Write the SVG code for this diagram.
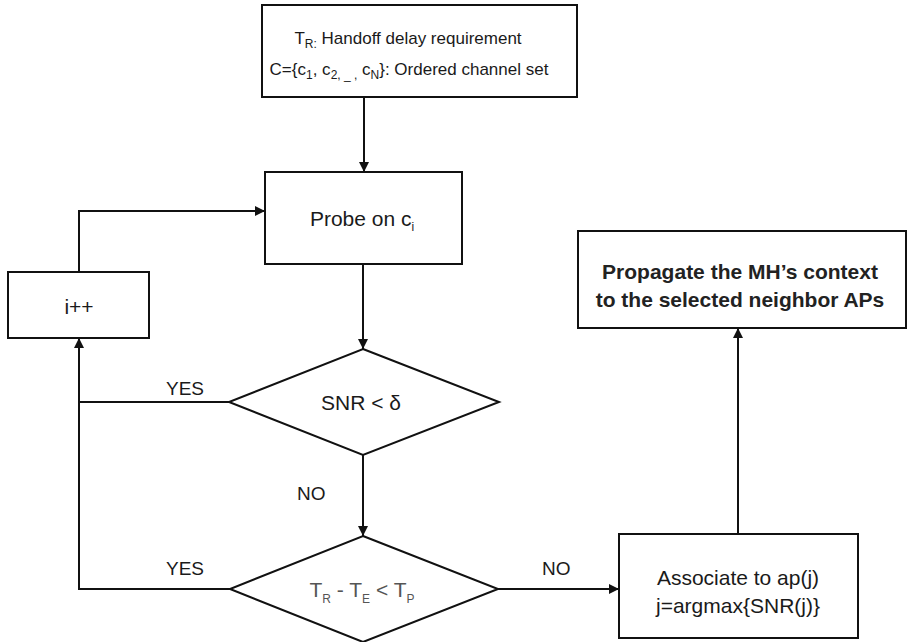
<svg xmlns="http://www.w3.org/2000/svg" width="913" height="642" viewBox="0 0 913 642">
<style>
  .box{fill:#fff;stroke:#111;stroke-width:2}
  .ln{fill:none;stroke:#111;stroke-width:2}
  .t{font-family:"Liberation Sans",Arial,sans-serif;font-size:21px;fill:#1a1a1a}
  .c{text-anchor:middle}
  .top{font-size:17px}
  .lab{font-size:19px}
  .b{font-weight:bold;font-size:21px;fill:#222}
  .g{fill:#555}
  .s{font-size:12px}
</style>
<defs>
  <marker id="ah" viewBox="0 0 10 10" refX="10" refY="5" markerWidth="5" markerHeight="5" orient="auto" markerUnits="strokeWidth">
    <path d="M0,0 L10,5 L0,10 z" fill="#111"/>
  </marker>
</defs>
<rect width="913" height="642" fill="#fff"/>
<g id="connectors">
  <path class="ln" d="M364,97 V172" marker-end="url(#ah)"/>
  <path class="ln" d="M363,264 V349" marker-end="url(#ah)"/>
  <path class="ln" d="M363,455 V536" marker-end="url(#ah)"/>
  <path class="ln" d="M229,402 H79"/>
  <path class="ln" d="M230,589 H79 V338" marker-end="url(#ah)"/>
  <path class="ln" d="M79,272 V211 H265" marker-end="url(#ah)"/>
  <path class="ln" d="M498,589 H619" marker-end="url(#ah)"/>
  <path class="ln" d="M738,534 V328" marker-end="url(#ah)"/>
  <text class="t lab" x="166" y="395">YES</text>
  <text class="t lab" x="166" y="575">YES</text>
  <text class="t lab" x="297" y="500">NO</text>
  <text class="t lab" x="542" y="575">NO</text>
</g>
<g id="start">
  <rect class="box" x="262" y="5" width="315" height="92"/>
  <text class="t top c" x="408" y="44">T<tspan class="s" dy="4">R:</tspan><tspan dy="-4"> Handoff delay requirement</tspan></text>
  <text class="t top c" x="409" y="75">C={c<tspan class="s" dy="4">1</tspan><tspan dy="-4">, c</tspan><tspan class="s" dy="4">2, _ ,</tspan><tspan dy="-4"> c</tspan><tspan class="s" dy="4">N</tspan><tspan dy="-4">}: Ordered channel set</tspan></text>
</g>
<g id="probe">
  <rect class="box" x="265" y="172" width="197" height="92"/>
  <text class="t c" x="362" y="226">Probe on c<tspan class="s" dy="5">i</tspan></text>
</g>
<g id="inc">
  <rect class="box" x="8" y="272" width="141" height="66"/>
  <text class="t c" x="79" y="314" font-size="23">i++</text>
</g>
<g id="snr">
  <polygon class="box" points="363,349 499,402 363,455 229,402"/>
  <text class="t c" x="361" y="410">SNR &lt; δ</text>
</g>
<g id="time">
  <polygon class="box" points="363,536 498,589 363,642 230,589"/>
  <text class="t c g" x="362" y="597">T<tspan class="s" dy="6">R</tspan><tspan dy="-6"> - T</tspan><tspan class="s" dy="6">E</tspan><tspan dy="-6"> &lt; T</tspan><tspan class="s" dy="6">P</tspan></text>
</g>
<g id="assoc">
  <rect class="box" x="619" y="534" width="239" height="104"/>
  <text class="t c" x="738" y="585">Associate to ap(j)</text>
  <text class="t c" x="738" y="613">j=argmax{SNR(j)}</text>
</g>
<g id="propagate">
  <rect class="box" x="578" y="231" width="328" height="97"/>
  <text class="t c b" x="740" y="279">Propagate the MH’s context</text>
  <text class="t c b" x="740" y="307">to the selected neighbor APs</text>
</g>
</svg>
